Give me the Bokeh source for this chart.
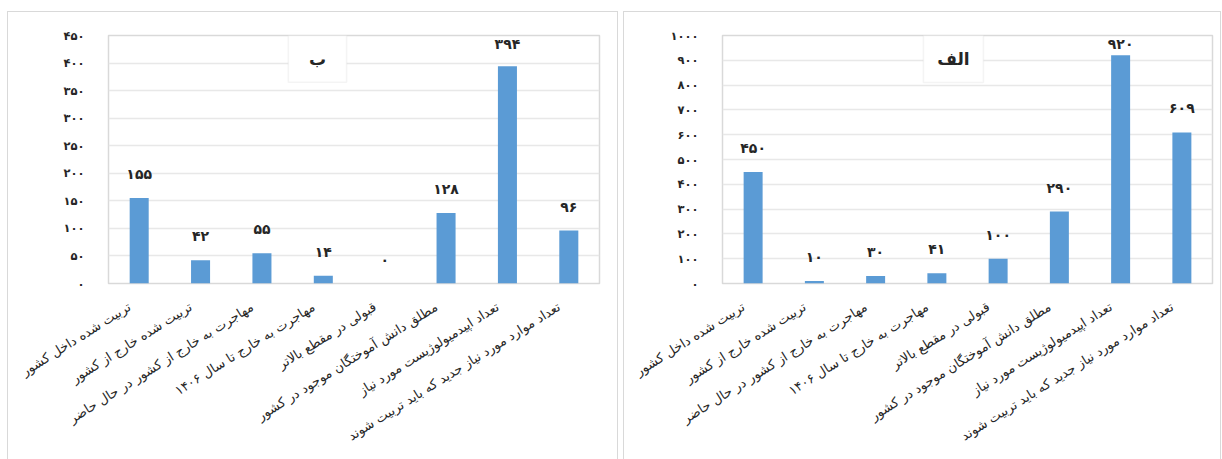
from bokeh.plotting import figure
from bokeh.models import (ColumnDataSource, FixedTicker, BoxAnnotation, Label, LabelSet,
                          Range1d, LinearAxis)
from bokeh.layouts import row
from bokeh.embed import file_html
from bokeh.resources import INLINE
from bokeh.core.properties import value

categories = [
    "تربیت شده داخل کشور",
    "تربیت شده خارج از کشور",
    "مهاجرت به خارج از کشور در حال حاضر",
    "مهاجرت به خارج تا سال ۱۴۰۶",
    "قبولی در مقطع بالاتر",
    "مطلق دانش آموختگان موجود در کشور",
    "تعداد اپیدمیولوژیست مورد نیاز",
    "تعداد موارد مورد نیاز جدید که باید تربیت شوند",
]
values_b = [155, 42, 55, 14, 0, 128, 394, 96]
values_alef = [450, 10, 30, 41, 100, 290, 920, 609]
ticks_b = [0, 50, 100, 150, 200, 250, 300, 350, 400, 450]
ticks_alef = [0, 100, 200, 300, 400, 500, 600, 700, 800, 900, 1000]
title_b = "ب"
title_alef = "الف"

FONT = "DejaVu Sans"
BAR = "#5B9BD5"
GRID = "#e8e8e8"
FRAME = "#d9d9d9"
TXT = "#262626"
FRAME_H = 248
LABEL_SHIFT = 0.16  # category-label nudge (fraction of a category slot)


def fa(n):
    return str(n).translate(str.maketrans("0123456789", "۰۱۲۳۴۵۶۷۸۹"))


def make(vals, ticks, title, width, left, right, box, margin):
    ymax = ticks[-1]
    n = len(categories)
    pos = list(range(n))
    p = figure(x_range=Range1d(-0.5, n - 0.5), y_range=Range1d(0, ymax),
               width=width, height=448, output_backend="svg", toolbar_location=None,
               min_border_left=left, min_border_right=right, min_border_top=23,
               min_border_bottom=448 - 23 - FRAME_H, margin=margin)
    p.outline_line_color = FRAME
    p.outline_line_width = 1.5
    b = "1px solid " + FRAME
    p.styles = {"border-top": b, "border-left": b, "border-right": b}
    offs = [min(24, (ymax - v) / ymax * FRAME_H - 8) for v in vals]
    src = ColumnDataSource(dict(x=pos, val=vals, lab=[fa(v) for v in vals], off=offs))
    p.vbar(x="x", top="val", width=0.31, source=src, fill_color=BAR, line_color=None)
    ls = LabelSet(x="x", y="val", text="lab", source=src, y_offset="off",
                  text_align="center", text_baseline="middle",
                  text_font=value(FONT), text_font_size="14px", text_font_style="bold",
                  text_color=TXT)
    p.add_layout(ls)
    p.yaxis.ticker = FixedTicker(ticks=ticks)
    p.yaxis.major_label_overrides = {t: fa(t) for t in ticks}
    p.yaxis.major_label_text_font = FONT
    p.yaxis.major_label_text_font_size = "11.5px"
    p.yaxis.major_label_text_font_style = "bold"
    p.yaxis.major_label_text_color = TXT
    p.yaxis.major_label_standoff = 18
    p.xaxis.visible = False
    p.extra_x_ranges = {"lab": Range1d(-0.5 + LABEL_SHIFT, n - 0.5 + LABEL_SHIFT)}
    xa = LinearAxis(x_range_name="lab", ticker=FixedTicker(ticks=pos),
                    major_label_overrides={i: c for i, c in enumerate(categories)})
    p.add_layout(xa, "below")
    for ax in (xa, p.yaxis[0]):
        ax.axis_line_color = None
        ax.major_tick_line_color = None
        ax.minor_tick_line_color = None
    xa.major_label_orientation = 0.56
    xa.major_label_text_font = FONT
    xa.major_label_text_font_size = "13px"
    xa.major_label_text_color = TXT
    xa.major_label_standoff = 16
    p.xgrid.grid_line_color = None
    p.ygrid.grid_line_color = GRID
    p.ygrid.grid_line_width = 1.5
    bl, br, bb = box
    p.add_layout(BoxAnnotation(left=bl, right=br, bottom=bb, top=ymax,
                               fill_color="white", fill_alpha=1.0,
                               line_color=FRAME, line_width=1.5))
    p.add_layout(Label(x=(bl + br) / 2, y=(bb + ymax) / 2, text=title,
                       text_align="center", text_baseline="middle",
                       text_font=FONT, text_font_size="17px",
                       text_font_style="bold", text_color=TXT))
    return p


p1 = make(values_b, ticks_b, title_b, 611, 100, 20, (2.43, 3.38, 365), (11, 0, 0, 7))
p2 = make(values_alef, ticks_alef, title_alef, 598, 98, 10, (2.78, 3.76, 810), (11, 0, 0, 5))
layout = row(p1, p2)
open("out.html", "w").write(file_html(layout, INLINE))
